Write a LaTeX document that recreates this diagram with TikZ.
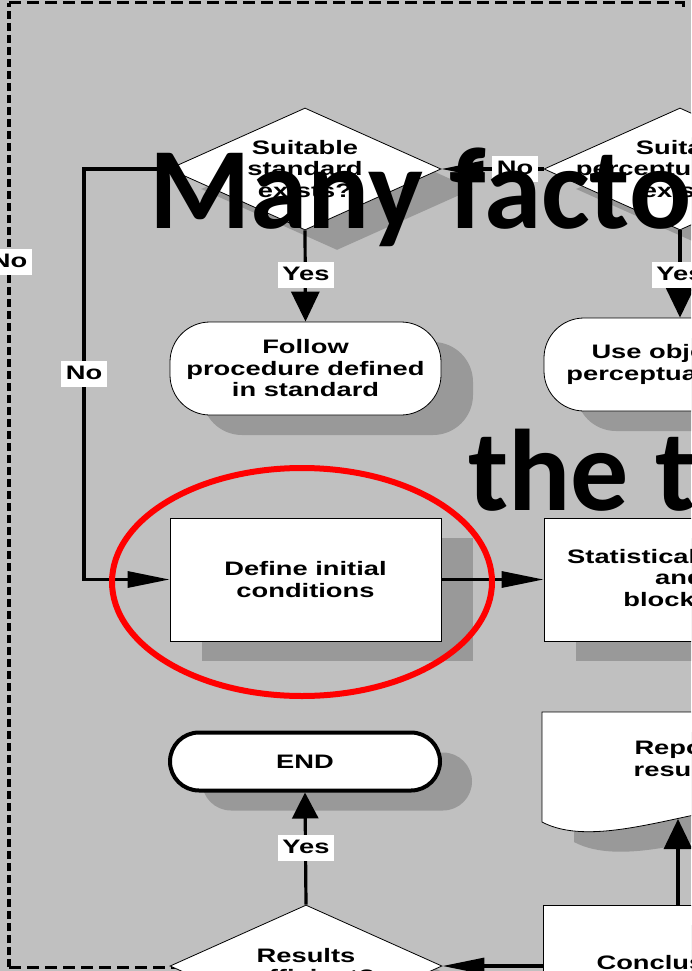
\documentclass[tikz,border=0pt]{standalone}
\usepackage{fontspec}
\usetikzlibrary{shapes.geometric,arrows.meta,shadows}
\newfontfamily\diafont[FakeStretch=1.4]{Liberation Sans}
\newfontfamily\ovfont{Carlito}
\definecolor{bggray}{RGB}{192,192,192}
\definecolor{shgray}{RGB}{153,153,153}

\begin{document}
\begin{tikzpicture}[x=1pt,y=-1pt,
  dtext/.style={font=\diafont\bfseries\fontsize{19.5}{21.5}\selectfont, align=center},
  shad/.style={drop shadow={shadow xshift=32pt,shadow yshift=-20pt,opacity=1,fill=shgray}},
  proc/.style={dtext, rectangle, draw=black, line width=0.8pt, fill=white,
    minimum width=271pt, minimum height=123pt, inner sep=0pt, shad},
  term/.style={dtext, rectangle, rounded corners=40pt, draw=black, line width=0.8pt, fill=white,
    minimum width=271pt, minimum height=93pt, inner sep=0pt, shad},
  endterm/.style={dtext, rectangle, rounded corners=29pt, draw=black, line width=4pt, fill=white,
    minimum width=270pt, minimum height=58pt, inner sep=0pt, shad},
  decision/.style={diamond, draw=black, line width=0.8pt, fill=white,
    minimum width=272pt, minimum height=122pt, inner sep=0pt, shad},
  conn/.style={line width=3.2pt},
  harr/.style={-{Triangle[length=42pt,width=16pt]}},
  varr/.style={-{Triangle[length=30pt,width=28pt]}},
  uarr/.style={-{Triangle[length=26pt,width=26pt]}},
  lab/.style={dtext, fill=white, inner xsep=4.5pt, inner ysep=4pt, text height=14pt, text depth=4pt},
  ovtext/.style={font=\ovfont\bfseries\fontsize{116}{120}\selectfont, inner sep=0pt, text=black}
]
\useasboundingbox (0,0) rectangle (691,971);
\clip (0,0) rectangle (691,971);
\fill[bggray] (0,0) rectangle (691,971);

% dashed outline of the group
\draw[black, line width=3.2pt, dash pattern=on 8pt off 4pt] (9,967) -- (9,3);
\draw[black, line width=3pt, dash pattern=on 12pt off 6pt] (9,3) -- (683,3) -- (683,7);
\draw[black, line width=3pt, dash pattern=on 12pt off 6pt] (9,967) -- (175,967);

% decisions
\node[decision] (d1) at (305,169) {};
\node[dtext] (d1t) at (305,169) {Suitable\\standard\\exists?};
\node[decision] (d2) at (680,169) {};
\node[dtext] (d2t) at (689,169) {Suitable\\perceptual model\\exists?};
\node[decision] (res) at (306,966) {};
\node[dtext] (rest) at (306,966) {Results\\sufficient?};

% terminators
\node[term] (fol) at (305.5,368.5) {Follow\\procedure defined\\in standard};
\node[term] (use) at (679.5,364.5) {Use objective\\perceptual model};
\node[endterm] (end) at (305,761.5) {END};

% process boxes
\node[proc] (def) at (305.5,579.5) {Define initial\\conditions};
\node[proc] (stat) at (679.5,579.5) {Statistical design\\and\\blocking};
\node[proc, minimum height=115pt] (conc) at (678.5,962.5) {Conclusions};

% document shape for the report
\fill[shgray, shift={(32,20)}] (542,712) -- (815,712) -- (815,812)
  .. controls (745,780) and (610,858) .. (542,822) -- cycle;
\draw[fill=white, line width=0.8pt] (542,712) -- (815,712) -- (815,812)
  .. controls (745,780) and (610,858) .. (542,822) -- cycle;
\node[dtext] (rep) at (678.5,759) {Report\\results};
\coordinate (repb) at (678,819);

% connectors
\coordinate (xL) at (84,374);
\draw[conn,harr] (d1.west) -| (xL) |- (def.west);
\draw[conn,harr] (d2.west) -- (d1.east);
\draw[conn,varr] (d1.south) -- (fol.north);
\draw[conn,varr] (d2.south) -- (d2.south |- use.north);
\draw[conn,harr] (def.east) -- (stat.west);
\draw[conn,uarr] (res.north) -- (end.south);
\draw[conn,harr] (conc.west |- res.east) -- (res.east);
\draw[conn,varr] (conc.north -| repb) -- (repb);

% connector labels
\node[lab] (no0) at (9,262) {No};
\node[lab] (no1) at (xL) {No};
\node[lab] (no2) at (515,169) {No};
\node[lab] (y1) at (306,275) {Yes};
\node[lab] (y2) at (680,275) {Yes};
\node[lab] (y3) at (306,848) {Yes};

% highlight
\draw[red, line width=6pt] (302,582) ellipse [x radius=190pt, y radius=114pt];

% overlaid caption
\node[ovtext, anchor=base west] (ov1) at (149,228) {Many factors};
\node[ovtext, anchor=base west] (ov2) at (468,510) {the test};
\end{tikzpicture}
\end{document}
